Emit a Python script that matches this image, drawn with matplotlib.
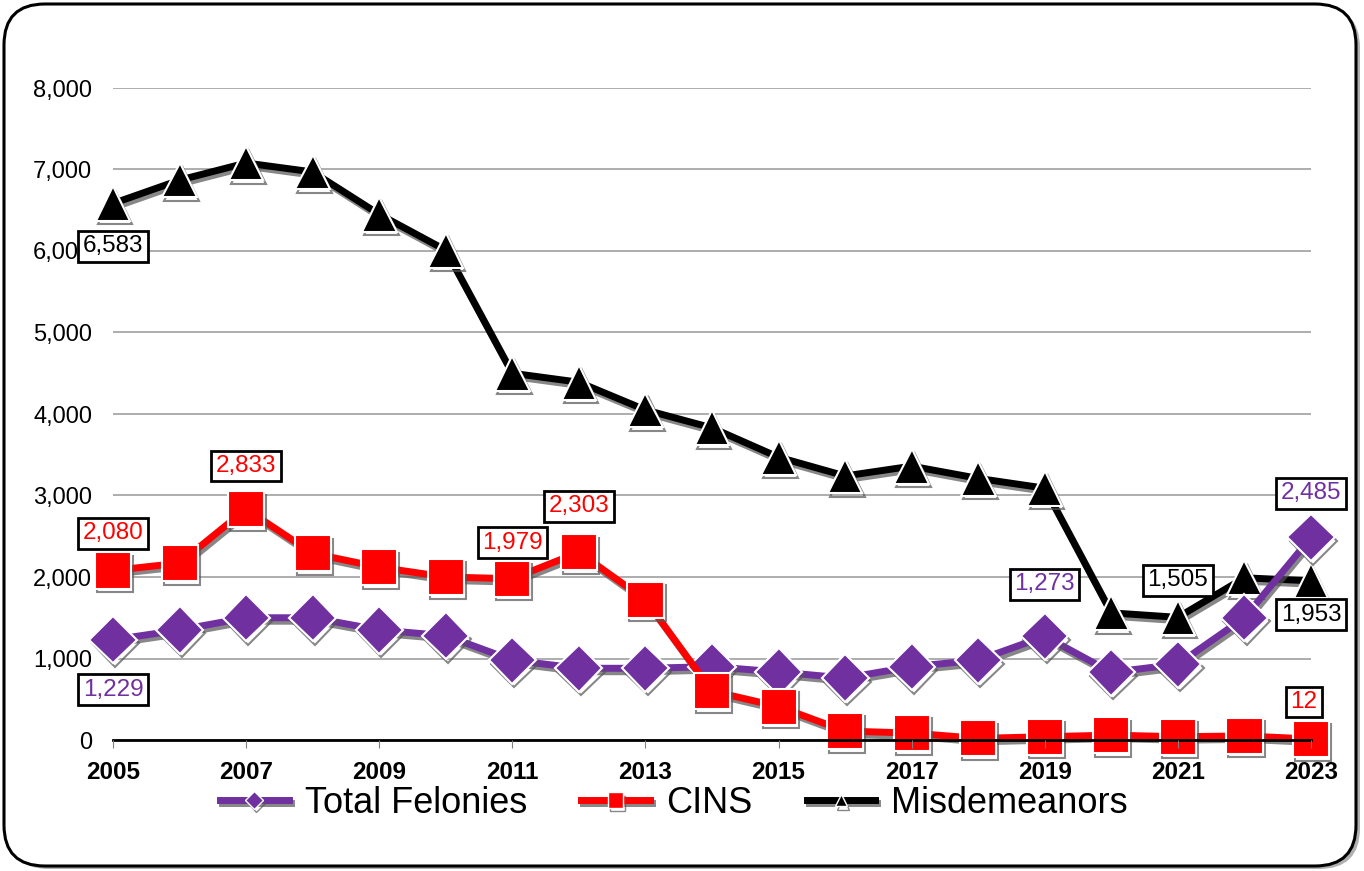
import matplotlib
matplotlib.use("Agg")
import matplotlib.pyplot as plt
import matplotlib.patheffects as pe
from matplotlib.lines import Line2D
from matplotlib.patches import FancyBboxPatch

plt.rcParams['font.family'] = ['Liberation Sans', 'DejaVu Sans']

# === data ===
years = list(range(2005, 2024))
felonies = [1229, 1350, 1500, 1500, 1350, 1280, 980, 880, 880, 900, 835, 760, 900, 980, 1273, 830, 930, 1500, 2485]
cins = [2080, 2170, 2833, 2290, 2120, 2000, 1979, 2303, 1720, 600, 410, 110, 85, 20, 40, 60, 40, 50, 12]
misd = [6583, 6870, 7080, 6970, 6450, 6010, 4500, 4390, 4050, 3830, 3470, 3240, 3360, 3210, 3090, 1560, 1505, 1990, 1953]
series_names = ["Total Felonies", "CINS", "Misdemeanors"]
tick_years = list(range(2005, 2024, 2))

PURPLE = "#7030A0"
RED = "#FF0000"

# labels: (series, year index, offset px x, offset px y)
labels = [
    ("misd", 0, 0, -43),
    ("cins", 0, 0, 37),
    ("cins", 2, 0, 43),
    ("cins", 6, 0, 36),
    ("cins", 7, 0, 46),
    ("fel", 0, 0, -50),
    ("fel", 14, 0, 52),
    ("misd", 16, 0, 37),
    ("fel", 18, 0, 44),
    ("misd", 18, 0, -34),
    ("cins", 18, -7, 37),
]

fig = plt.figure(figsize=(13.64, 8.71), dpi=100)
ax = fig.add_axes([113/1364, 1-740/871, (1311-113)/1364, (740-88)/871])

# rounded frame with shadow
shadow = FancyBboxPatch((8/1364, 2/871), 1352/1364, 862/871,
                        boxstyle="round,pad=0,rounding_size=0.03",
                        transform=fig.transFigure, fc="#b0b0b0", ec="none", zorder=-2,
                        mutation_aspect=1364/871)
frame = FancyBboxPatch((4/1364, 5/871), 1352/1364, 862/871,
                       boxstyle="round,pad=0,rounding_size=0.03",
                       transform=fig.transFigure, fc="white", ec="black", lw=2.2, zorder=-1,
                       mutation_aspect=1364/871)
fig.patches.extend([shadow, frame])
ax.set_facecolor("none")

shadow_fx = [pe.SimpleLineShadow(offset=(1.5, -2.5), shadow_color="#555555", alpha=0.7), pe.Normal()]

ax.plot(years, misd, color="black", lw=5, marker="^", ms=25, mec="white", mew=1.5,
        clip_on=False, zorder=3, path_effects=shadow_fx)
ax.plot(years, felonies, color=PURPLE, lw=5, marker="D", ms=24, mec="white", mew=1.5,
        clip_on=False, zorder=4, path_effects=shadow_fx)
ax.plot(years, cins, color=RED, lw=5, marker="s", ms=26, mec="white", mew=1.5,
        clip_on=False, zorder=5, path_effects=shadow_fx)

data = {"fel": (felonies, PURPLE), "cins": (cins, RED), "misd": (misd, "black")}
for key, i, dx, dy in labels:
    vals, col = data[key]
    ax.annotate(f"{vals[i]:,}", (years[i], vals[i]), xytext=(dx, dy), textcoords="offset pixels",
                ha="center", va="center", fontsize=17.5, color=col, zorder=10,
                bbox=dict(boxstyle="square,pad=0.18", fc="white", ec="black", lw=2))

ax.set_xlim(2005, 2023)
ax.set_ylim(0, 8000)
ax.set_yticks(range(0, 8001, 1000))
ax.set_yticklabels([f"{v:,}" for v in range(0, 8001, 1000)], fontsize=17)
ax.set_xticks(tick_years)
ax.set_xticklabels([str(y) for y in tick_years], fontsize=17.5, fontweight="bold")
ax.tick_params(axis="y", length=0, pad=15)
ax.tick_params(axis="x", length=6, color="#808080", pad=9)
ax.grid(axis="y", color="#a0a0a0", lw=1.2)
ax.set_axisbelow(True)
ax.xaxis.set_zorder(6)
for s in ["left", "right", "top"]:
    ax.spines[s].set_visible(False)
ax.spines["bottom"].set_linewidth(2)
ax.spines["bottom"].set_zorder(6)

handles = [
    Line2D([], [], color=PURPLE, lw=5, marker="D", ms=9, mec="white", path_effects=shadow_fx),
    Line2D([], [], color=RED, lw=5, marker="s", ms=11, mec="white", path_effects=shadow_fx),
    Line2D([], [], color="black", lw=5, marker="^", ms=9, mec="white", path_effects=shadow_fx),
]
fig.legend(handles, series_names, loc="center", bbox_to_anchor=(674/1364, 1-803/871), ncol=3,
           frameon=False, handlelength=1.9, columnspacing=1.5, handletextpad=0.45,
           prop={"family": ["Liberation Sans Narrow", "Liberation Sans"], "size": 26})

fig.savefig("out.png", dpi=100)
